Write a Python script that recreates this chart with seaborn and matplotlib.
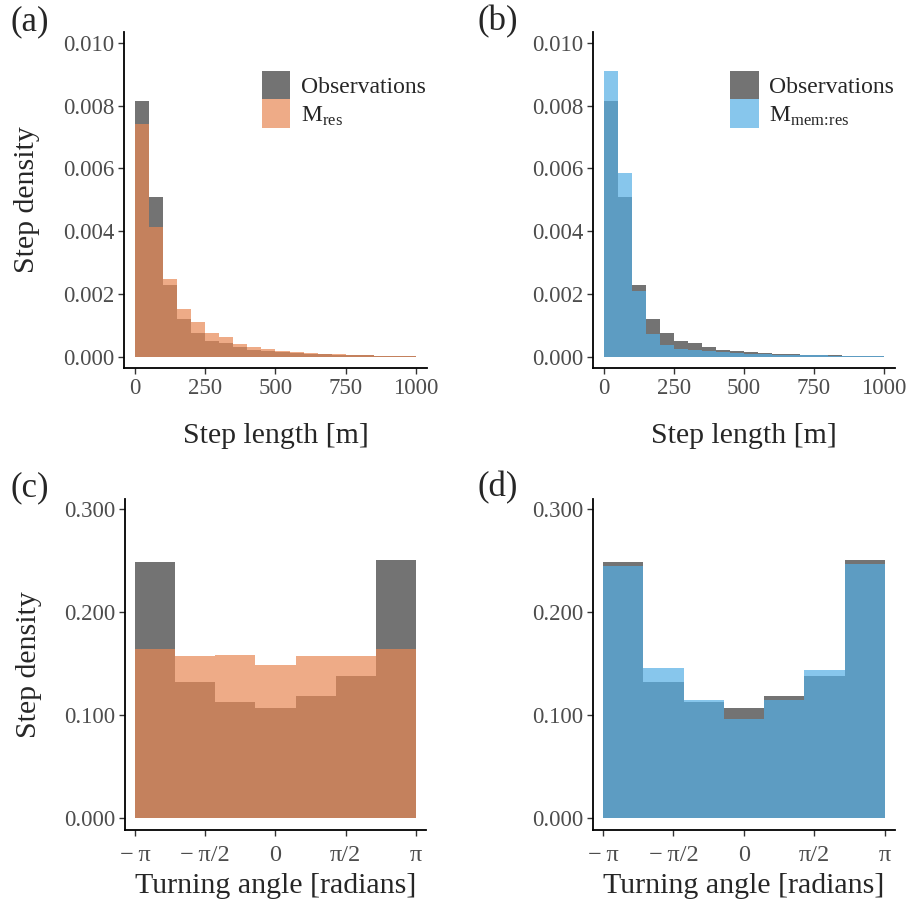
import numpy as np
import pandas as pd
import matplotlib
matplotlib.use("Agg")
import matplotlib.pyplot as plt
import seaborn as sns
from matplotlib.ticker import FormatStrFormatter

# step length histograms, 50 m bins from 0 to 1000 m
step_edges = np.arange(0, 1001, 50)
obs_step = [0.00814, 0.00508, 0.00230, 0.00120, 0.00075, 0.00051, 0.00044, 0.00030, 0.00022, 0.00018,
            0.00015, 0.00013, 0.00010, 0.00008, 0.00006, 0.00005, 0.00005, 0.00003, 0.00002, 0.00001]
res_step = [0.00741, 0.00414, 0.00247, 0.00151, 0.00110, 0.00077, 0.00062, 0.00041, 0.00031, 0.00025,
            0.00018, 0.00015, 0.00011, 0.00009, 0.00007, 0.00005, 0.00004, 0.00003, 0.00002, 0.00002]
memres_step = [0.00911, 0.00587, 0.00208, 0.00072, 0.00038, 0.00025, 0.00021, 0.00017, 0.00014, 0.00011,
               0.00008, 0.00007, 0.00006, 0.00005, 0.00004, 0.00004, 0.00003, 0.00002, 0.00002, 0.00001]

# turning angle histograms, 7 bins from -pi to pi
angle_edges = np.linspace(-np.pi, np.pi, 8)
obs_angle = [0.2484, 0.1323, 0.1126, 0.1074, 0.1187, 0.1377, 0.2503]
res_angle = [0.1645, 0.1574, 0.1581, 0.1484, 0.1571, 0.1571, 0.1645]
memres_angle = [0.2445, 0.1455, 0.1148, 0.0961, 0.1152, 0.1442, 0.2465]

angle_ticks = [-np.pi, -np.pi / 2, 0, np.pi / 2, np.pi]
angle_labels = ["\u2212\u2009π", "\u2212\u2009π/2", "0", "π/2", "π"]

OBS = "#737373"
RES = "#E88854"
MEMRES = "#54AEE5"

sns.set_style("ticks")
plt.rcParams["font.family"] = ["Liberation Serif", "DejaVu Serif"]
plt.rcParams["mathtext.fontset"] = "custom"
plt.rcParams["mathtext.rm"] = "Liberation Serif"

fig = plt.figure(figsize=(9.11, 9.22), dpi=100)
ax_a = fig.add_axes([0.1361, 0.6009, 0.3326, 0.3644])
ax_b = fig.add_axes([0.6509, 0.6009, 0.3315, 0.3644])
ax_c = fig.add_axes([0.1372, 0.0998, 0.3304, 0.3590])
ax_d = fig.add_axes([0.6509, 0.0998, 0.3315, 0.3590])


def draw(ax, edges, obs, mod, color, label):
    centers = (edges[:-1] + edges[1:]) / 2
    bins = list(edges)
    d_obs = pd.DataFrame({"x": centers, "w": obs})
    d_mod = pd.DataFrame({"x": centers, "w": mod})
    sns.histplot(data=d_obs, x="x", weights="w", bins=bins, color=OBS, alpha=1, linewidth=0,
                 ax=ax, label="Observations")
    sns.histplot(data=d_mod, x="x", weights="w", bins=bins, color=color, alpha=0.7, linewidth=0,
                 ax=ax, label=label)


draw(ax_a, step_edges, obs_step, res_step, RES, r"M$_{\mathrm{res}}$")
draw(ax_b, step_edges, obs_step, memres_step, MEMRES, r"M$_{\mathrm{mem\!:\!res}}$")
draw(ax_c, angle_edges, obs_angle, res_angle, RES, r"M$_{\mathrm{res}}$")
draw(ax_d, angle_edges, obs_angle, memres_angle, MEMRES, r"M$_{\mathrm{mem\!:\!res}}$")

for ax in (ax_a, ax_b, ax_c, ax_d):
    ax.set_ylabel("")
    sns.despine(ax=ax)
    for s in ("left", "bottom"):
        ax.spines[s].set_linewidth(1.3)
        ax.spines[s].set_color("black")
    ax.tick_params(labelsize=16.5, labelcolor="#4D4D4D", color="#333333", length=4.5, width=1, pad=2.5)

for ax in (ax_a, ax_b):
    ax.set_xlim(-40, 1040)
    ax.set_ylim(-0.00036, 0.01035)
    ax.set_xticks([0, 250, 500, 750, 1000])
    ax.set_yticks(np.arange(0, 0.0101, 0.002))
    ax.yaxis.set_major_formatter(FormatStrFormatter("%.3f"))
    ax.set_xlabel("Step length [m]", fontsize=21.5)
    ax.xaxis.set_label_coords(0.5, -0.165)
    ax.legend(loc="upper left", bbox_to_anchor=(0.455, 0.885), frameon=False, fontsize=17,
              handlelength=1.2, handleheight=1.5, labelspacing=0.0, handletextpad=0.45,
              borderpad=0, borderaxespad=0)

for ax in (ax_c, ax_d):
    ax.set_xlim(-np.pi - 0.224, np.pi + 0.224)
    ax.set_ylim(-0.01135, 0.3097)
    ax.set_xticks(angle_ticks)
    ax.set_xticklabels(angle_labels)
    ax.tick_params(axis="x", labelsize=17.5, pad=6)
    ax.set_yticks([0, 0.1, 0.2, 0.3])
    ax.yaxis.set_major_formatter(FormatStrFormatter("%.3f"))
    ax.set_xlabel("Turning angle [radians]", fontsize=21.5)
    ax.xaxis.set_label_coords(0.5, -0.13)

for ax in (ax_a, ax_c):
    ax.set_ylabel("Step density", fontsize=21.5)
    ax.yaxis.set_label_coords(-0.277, 0.5)

for lab, x, y in [("(a)", 0.012, 0.976), ("(b)", 0.524, 0.976), ("(c)", 0.012, 0.471), ("(d)", 0.524, 0.471)]:
    fig.text(x, y, lab, fontsize=25, ha="left", va="center")

fig.savefig("out.png", dpi=100)
